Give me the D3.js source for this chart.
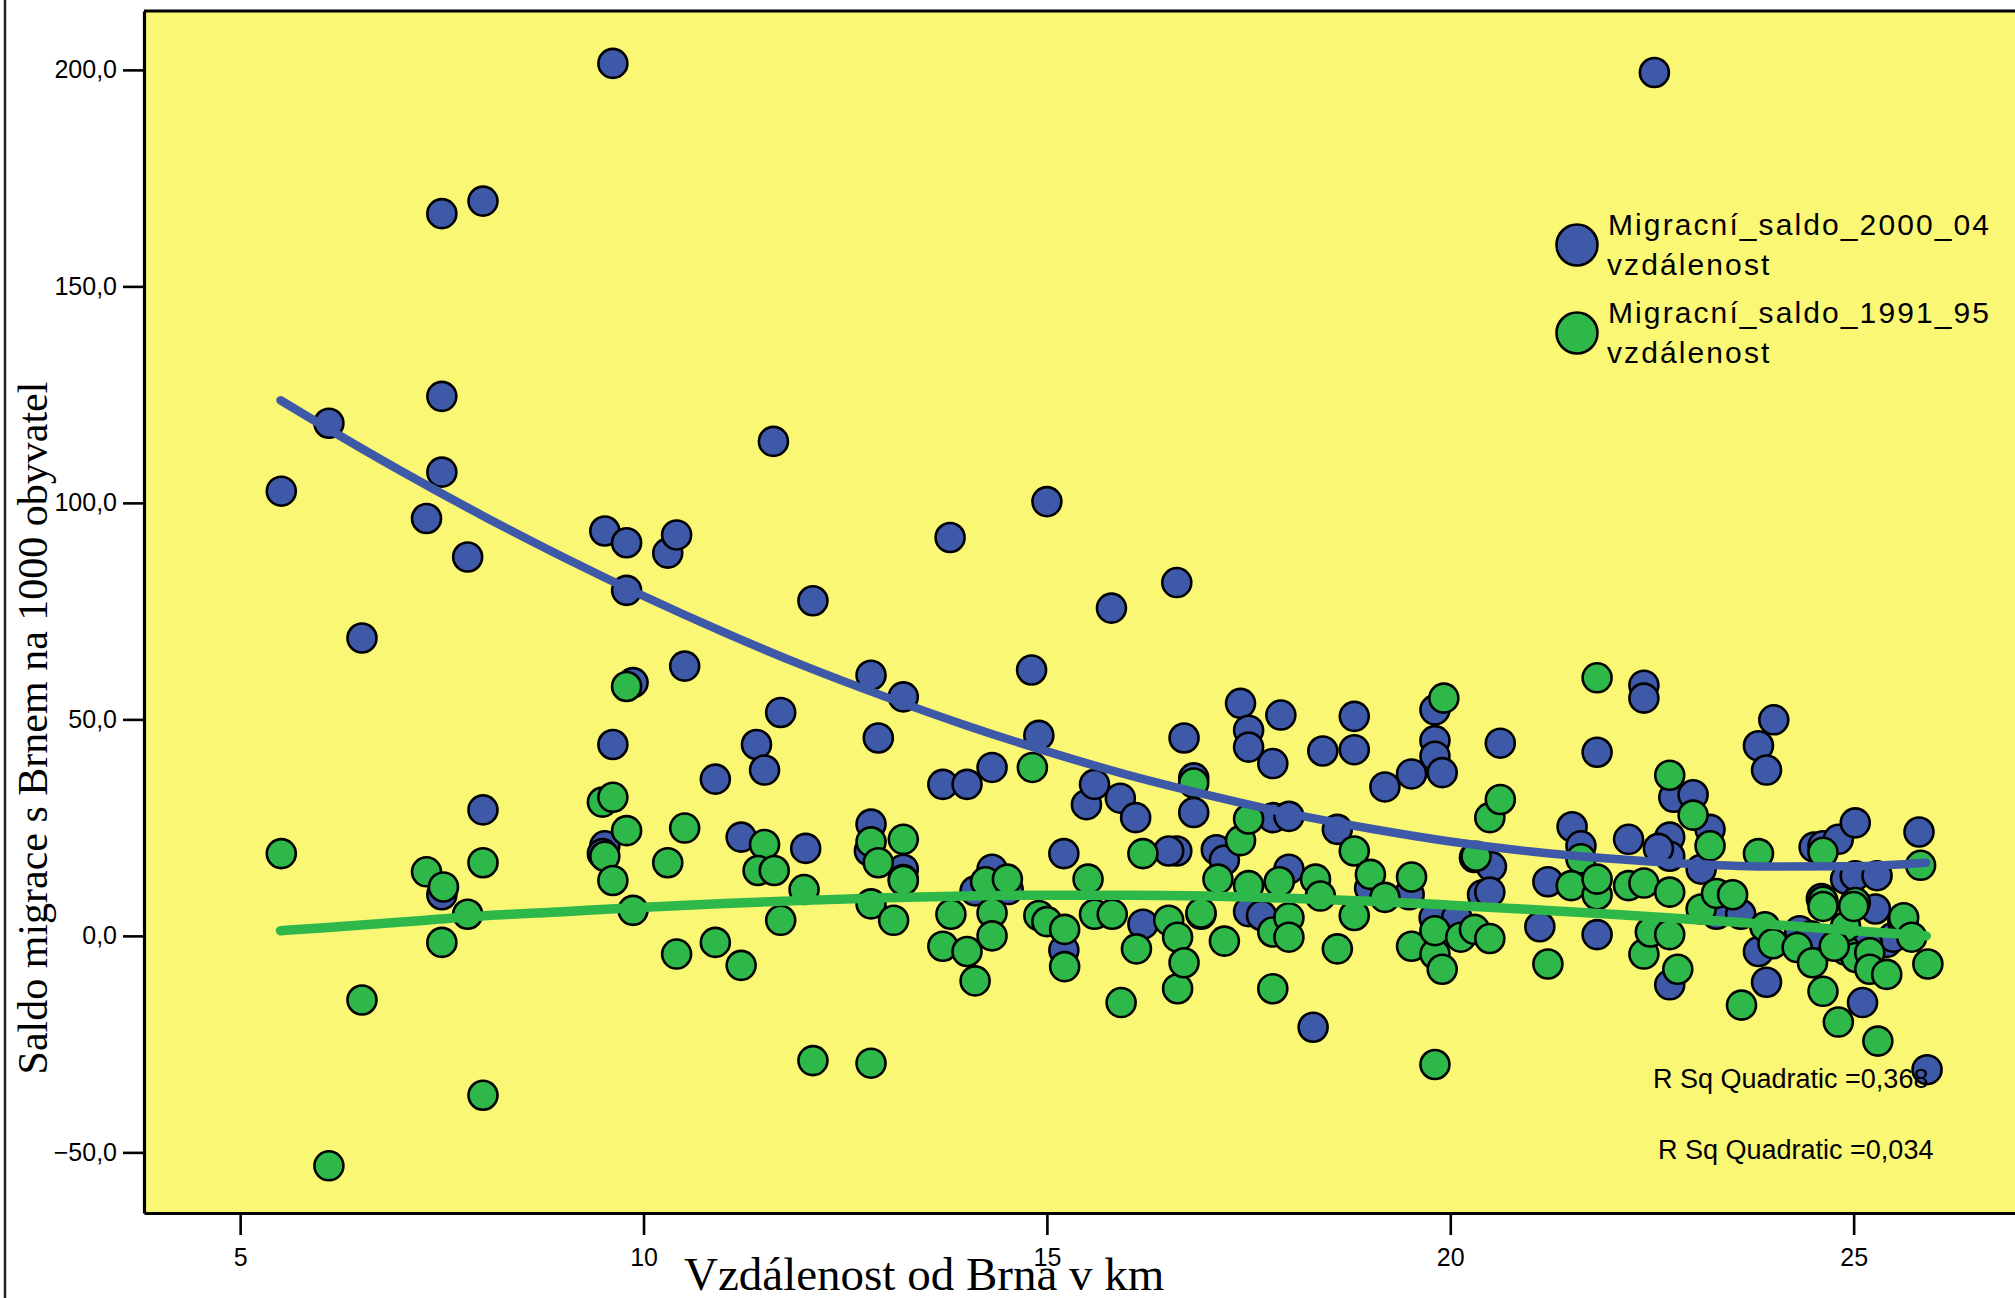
<!DOCTYPE html>
<html>
<head>
<meta charset="utf-8">
<script src="https://cdn.jsdelivr.net/npm/d3@7"></script>
<style>
  body { margin: 0; background: #fff; }
  svg { display: block; }
</style>
</head>
<body>
<script>
// Canvas setup
const canvasWidth = 2015;
const canvasHeight = 1298;

// Data: distance (km) and migration balance
const dist2000 = [5.51,6.10,6.51,7.31,7.50,7.50,7.50,8.01,7.82,8.01,7.50,9.52,9.79,10.30,10.41,9.79,10.51,9.87,9.62,9.52,
  9.49,9.62,10.89,11.21,11.40,11.50,11.61,11.70,12.01,12.10,12.82,12.82,12.80,12.91,13.22,13.22,13.22,13.71,13.80,14.01,
  14.11,14.32,14.32,14.52,14.81,14.90,15.00,15.21,15.21,15.49,15.59,15.80,15.91,16.10,16.19,16.61,16.61,16.51,16.70,16.82,
  16.82,16.91,17.10,17.20,17.40,17.50,17.50,17.50,17.66,17.80,17.90,17.80,18.00,18.00,18.30,18.42,18.60,18.81,18.81,19.00,
  19.19,19.52,19.49,19.81,19.81,19.81,19.90,19.80,20.08,20.30,20.40,20.51,20.62,20.49,21.11,21.21,21.51,21.62,21.82,21.82,
  22.21,22.40,22.40,22.53,22.72,22.72,22.58,22.72,22.77,23.01,23.22,23.11,23.30,23.60,23.82,23.92,24.01,23.92,23.82,24.33,
  24.47,24.51,24.62,24.81,24.90,25.02,25.02,25.11,25.29,25.27,25.41,25.49,25.81,25.91,25.61,25.17,24.60];
const saldo2000 = [102.7,118.4,68.8,96.4,124.6,107.1,166.8,169.7,87.5,29.1,9.5,93.5,90.8,88.4,92.6,79.8,62.3,58.5,44.2,20.8,
  19.0,201.5,36.2,22.8,44.2,38.3,114.2,51.6,20.2,77.4,60.2,25.8,19.6,45.7,55.2,15.4,13.0,35.0,92.0,35.0,
  10.4,15.4,38.9,10.7,61.4,46.3,100.3,19.0,-3.3,30.3,35.0,75.7,31.8,27.3,2.7,81.6,19.6,19.6,45.7,36.5,
  28.5,5.0,19.9,17.5,53.7,47.5,43.6,5.6,4.7,39.8,51.0,27.3,27.6,15.4,-21.1,42.7,24.6,50.7,43.0,11.0,
  34.4,37.4,9.5,52.2,45.1,41.5,37.7,4.2,4.2,18.1,9.5,16.0,44.5,10.1,2.1,12.5,25.2,20.8,42.4,0.3,
  22.3,57.9,54.9,199.4,22.8,18.4,20.2,-11.3,32.0,32.6,24.6,15.4,5.0,5.0,43.9,38.3,49.9,-10.7,-3.6,1.2,
  0.0,20.5,20.8,22.3,13.1,26.1,13.9,-15.4,13.9,6.2,-1.5,-0.3,24.0,-30.9,3.3,-1.8,8.6];

const dist1991 = [5.51,6.10,6.51,7.31,7.52,7.50,8.01,8.01,7.82,9.79,9.49,9.62,9.79,10.51,9.52,9.62,10.30,9.87,10.41,10.89,
  11.21,11.50,11.42,11.62,11.70,11.99,12.10,12.82,12.82,12.82,12.91,13.22,13.22,13.10,13.71,13.81,14.01,14.11,14.32,14.32,
  14.24,14.51,14.82,14.90,15.00,15.22,15.22,15.51,15.59,15.81,15.92,16.11,16.19,16.51,16.62,16.62,16.70,16.82,16.91,17.12,
  17.20,17.40,17.50,17.50,17.80,17.80,17.88,18.00,18.00,18.33,18.39,18.60,18.81,18.81,19.01,19.19,19.52,19.52,19.92,19.81,
  19.81,19.90,19.81,20.13,20.30,20.49,20.32,20.49,20.62,21.21,21.62,21.50,21.82,21.82,21.82,22.21,22.40,22.40,22.48,22.72,
  22.72,22.82,22.72,23.01,23.22,23.11,23.30,23.50,23.61,23.82,23.90,24.00,24.30,24.49,24.62,24.62,24.62,24.81,24.90,24.90,
  25.02,25.03,25.20,25.20,25.30,25.41,25.62,25.72,25.83,25.92,24.62,25.00,24.76];
const saldo1991 = [19.0,-53.1,-14.8,14.8,11.3,-1.5,16.9,-36.8,5.0,57.6,30.9,32.0,24.3,24.9,18.4,12.8,16.9,5.9,-4.2,-1.5,
  -6.8,21.1,15.1,15.1,3.6,10.7,-28.8,21.7,7.4,-29.4,16.9,22.3,12.8,3.6,-2.4,5.0,-3.6,-10.4,5.3,0.0,
  12.5,13.1,38.9,4.7,3.3,1.5,-7.1,13.1,5.0,5.0,-15.4,-3.0,19.0,3.6,-0.3,-12.2,-6.2,35.3,5.3,13.1,
  -1.2,22.0,27.0,11.6,0.9,-12.2,12.5,4.2,-0.3,13.1,9.2,-3.0,19.6,4.7,14.2,8.9,13.6,-2.4,54.9,-29.7,
  -4.2,-7.7,1.2,-0.3,1.5,-0.6,18.4,27.3,31.5,-6.5,17.8,11.6,59.6,9.5,13.1,11.6,-4.2,12.2,0.9,0.3,
  37.1,-7.7,10.1,27.9,20.8,6.2,9.8,9.5,-16.0,19.0,2.1,-1.8,-2.7,-6.2,19.3,8.0,-12.8,-19.9,-3.3,2.1,
  7.7,-5.0,-3.9,-7.7,-24.3,-8.9,4.2,-0.3,16.3,-6.5,6.8,6.8,-2.4];

// Quadratic fit lines
const fitX = [5.5,6,7,8,9,10,11,12,13,14,15,16,17,18,19,20,21,22,23,24,25,25.9];
const fit2000 = [123.7,118.1,107.3,97.1,87.5,78.5,70.1,62.3,55.2,48.6,42.6,37.2,32.5,28.3,24.8,21.8,19.5,17.8,16.6,16.0,16.1,16.9];
const fit1991 = [1.2,1.8,3.2,4.6,5.6,6.6,7.5,8.2,8.8,9.2,9.4,9.4,9.2,8.7,8.0,7.1,6.1,5.0,3.8,2.6,1.2,0.0];

const xTicks = [5,10,15,20,25];
const yTicks = [-50,0,50,100,150,200];
const seriesNames = ["Migracní_saldo_2000_04", "Migracní_saldo_1991_95"];
const rSquared = ["0,368", "0,034"];

const blue = "#3f59a9";
const green = "#2eb84a";
const yellow = "#faf775";

const svg = d3.select('body')
    .append('svg')
    .attr('width', canvasWidth)
    .attr('height', canvasHeight);

let plot = { left: 144, top: 11, right: 2015, bottom: 1213 };

let xScale = d3.scaleLinear()
    .domain([3.808, 27.0])
    .range([plot.left, plot.right]);

let yScale = d3.scaleLinear()
    .domain([-64, 213.6])
    .range([plot.bottom, plot.top]);

// outer frame line at the very left
svg.append('line')
    .attr('x1', 5).attr('x2', 5)
    .attr('y1', 0).attr('y2', canvasHeight)
    .attr('stroke', '#222').attr('stroke-width', 2.5);

// plot background
svg.append('rect')
    .attr('x', plot.left)
    .attr('y', plot.top)
    .attr('width', plot.right - plot.left + 20)
    .attr('height', plot.bottom - plot.top)
    .attr('fill', yellow);

function drawPoints(xs, ys, color){
    svg.append('g')
    .selectAll('circle')
    .data(xs.map((x, i) => [x, ys[i]]))
    .join('circle')
    .attr('cx', d => xScale(d[0]))
    .attr('cy', d => yScale(d[1]))
    .attr('r', 14.5)
    .attr('fill', color)
    .attr('stroke', '#000')
    .attr('stroke-width', 2.6);
}

drawPoints(dist2000, saldo2000, blue);
drawPoints(dist1991, saldo1991, green);

let lineFn = d3.line()
    .x(d => xScale(d[0]))
    .y(d => yScale(d[1]))
    .curve(d3.curveMonotoneX);

svg.append('path')
    .attr('d', lineFn(fitX.map((x, i) => [x, fit2000[i]])))
    .attr('fill', 'none')
    .attr('stroke', blue)
    .attr('stroke-width', 8.5)
    .attr('stroke-linecap', 'round');

svg.append('path')
    .attr('d', lineFn(fitX.map((x, i) => [x, fit1991[i]])))
    .attr('fill', 'none')
    .attr('stroke', green)
    .attr('stroke-width', 9.5)
    .attr('stroke-linecap', 'round');

// axes
let yAxis = svg.append('g')
    .attr('transform', `translate(${plot.left},0)`)
    .call(d3.axisLeft(yScale).tickValues(yTicks).tickSize(21).tickSizeOuter(0).tickPadding(6)
        .tickFormat(d => d3.format('.1f')(d).replace('.', ',')));

let xAxis = svg.append('g')
    .attr('transform', `translate(0,${plot.bottom})`)
    .call(d3.axisBottom(xScale).tickValues(xTicks).tickSize(22).tickSizeOuter(0).tickPadding(13));

[yAxis, xAxis].forEach(ax => {
    ax.select('.domain').attr('stroke-width', 3.2);
    ax.selectAll('.tick line').attr('stroke-width', 2.6);
    ax.selectAll('.tick text')
        .attr('font-family', '"Liberation Sans", Arial, sans-serif')
        .attr('font-size', 25)
        .attr('fill', '#000');
});

// top border of plot
svg.append('line')
    .attr('x1', plot.left).attr('x2', plot.right + 20)
    .attr('y1', plot.top).attr('y2', plot.top)
    .attr('stroke', '#000').attr('stroke-width', 3.2);

// axis titles
svg.append('text')
    .attr('x', 684)
    .attr('y', 1290)
    .attr('font-family', '"Liberation Serif", "Times New Roman", serif')
    .attr('font-size', 47)
    .text('Vzdálenost od Brna v km');

svg.append('text')
    .attr('transform', 'translate(47,728) rotate(-90)')
    .attr('text-anchor', 'middle')
    .attr('font-family', '"Liberation Serif", "Times New Roman", serif')
    .attr('font-size', 42)
    .text('Saldo migrace s Brnem na 1000 obyvatel');

// legend
let legend = svg.append('g');
[blue, green].forEach((c, i) => {
    let cy = 245 + i * 88;
    legend.append('circle')
        .attr('cx', 1577).attr('cy', cy).attr('r', 20.5)
        .attr('fill', c).attr('stroke', '#000').attr('stroke-width', 2.6);
    let t = legend.append('text')
        .attr('font-family', '"Liberation Sans", Arial, sans-serif')
        .attr('font-size', 30)
        .attr('letter-spacing', 2.1);
    t.append('tspan').attr('x', 1608).attr('y', cy - 10).text(seriesNames[i]);
    t.append('tspan').attr('x', 1607).attr('y', cy + 30).text('vzdálenost');
});

// R squared labels
rSquared.forEach((r, i) => {
    svg.append('text')
        .attr('x', i === 0 ? 1653 : 1658)
        .attr('y', i === 0 ? 1088 : 1159)
        .attr('font-family', '"Liberation Sans", Arial, sans-serif')
        .attr('font-size', 27)
        .text('R Sq Quadratic =' + r);
});
</script>
</body>
</html>
